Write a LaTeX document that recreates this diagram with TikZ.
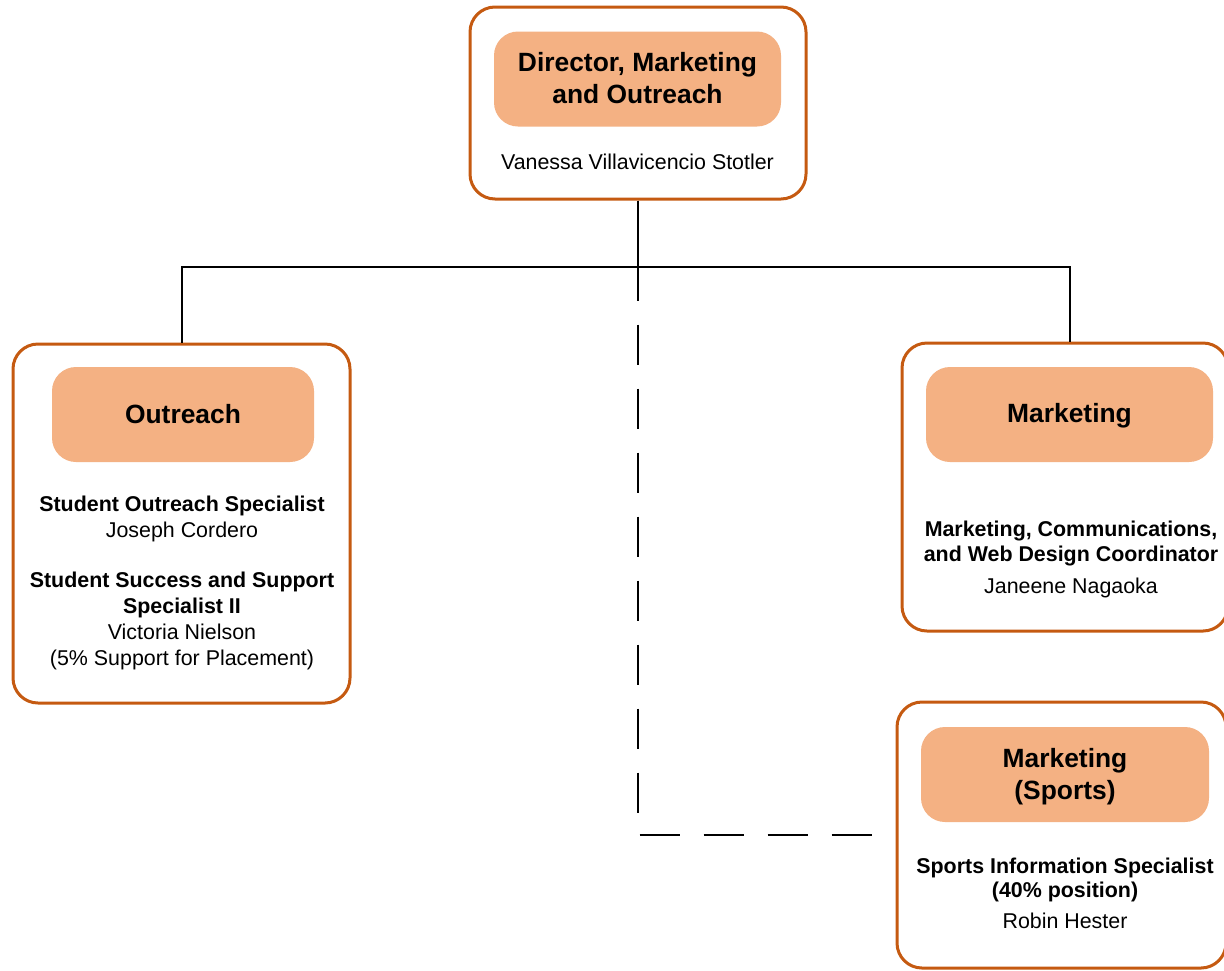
\documentclass[tikz,border=0pt]{standalone}
\usepackage{fontspec}
\setmainfont{Liberation Sans}
\usetikzlibrary{calc}
\definecolor{rim}{RGB}{197,90,17}
\definecolor{peach}{RGB}{244,177,131}

\begin{document}
\begin{tikzpicture}[x=0.5pt,y=-0.5pt,
	unitbox/.style={draw=rim, line width=1.5pt, rounded corners=12.5pt, fill=white, inner sep=0pt},
	headbox/.style={fill=peach, rounded corners=12pt, inner sep=0pt, minimum height=47.5pt},
	head/.style={font=\fontsize{13.2}{16}\selectfont\bfseries, align=center, inner sep=0pt},
	txt/.style={font=\fontsize{10.7}{13}\selectfont, align=center, inner sep=0pt},
	tree/.style={line width=1pt, black},
	dotline/.style={line width=1pt, black, dash pattern=on 20pt off 12pt, dash phase=2pt}]
	\useasboundingbox (0,0) rectangle (1224,970);

	% boxes
	\node[unitbox, minimum width=168pt, minimum height=96pt] (dirbox) at (638,103) {};
	\node[unitbox, minimum width=168.5pt, minimum height=179.5pt] (outbox) at (181.5,523.5) {};
	\node[unitbox, minimum width=163pt, minimum height=144pt] (mktbox) at (1065,487) {};
	\node[unitbox, minimum width=164.5pt, minimum height=133pt] (sptbox) at (1061.5,835) {};

	% headers
	\node[headbox, minimum width=143.5pt] (dirhead) at (637.5,79) {};
	\node[headbox, minimum width=131pt] (outhead) at (183,414.5) {};
	\node[headbox, minimum width=143.5pt] (mkthead) at (1069.5,414.5) {};
	\node[headbox, minimum width=144pt] (spthead) at (1065,774.5) {};
	\node[head] (dirtitle) at (637.5,78) {Director, Marketing\\and Outreach};
	\node[head] (outtitle) at (183,414) {Outreach};
	\node[head] (mkttitle) at (1069.5,416) {Marketing};
	\node[head] (spttitle) at (1065,777) {Marketing\\(Sports)};

	% staff
	\node[txt] (dirname) at (637.5,162) {Vanessa Villavicencio Stotler};
	\node[txt] (outstaffa) at (182,519) {\textbf{Student Outreach Specialist}\\Joseph Cordero};
	\node[txt] (outstaffb) at (182,621) {\textbf{Student Success and Support}\\\textbf{Specialist II}\\Victoria Nielson\\(5\% Support for Placement)};
	\node[txt] (mktstaff) at (1071,543.5) {\textbf{Marketing, Communications,}\\[-0.5pt]\textbf{and Web Design Coordinator}};
	\node[txt] (mktname) at (1071,588) {Janeene Nagaoka};
	\node[txt] (sptstaff) at (1065,880) {\textbf{Sports Information Specialist}\\[-1pt]\textbf{(40\% position)}};
	\node[txt] (sptname) at (1065,921) {Robin Hester};

	% lines
	\coordinate (bar) at (638,267);
	\draw[dotline] (dirbox.south) |- (sptbox.west);
	\draw[tree] (dirbox.south) -- (bar);
	\draw[tree] (outbox.north) |- (bar) -| (mkthead.north |- mktbox.north);
\end{tikzpicture}
\end{document}
